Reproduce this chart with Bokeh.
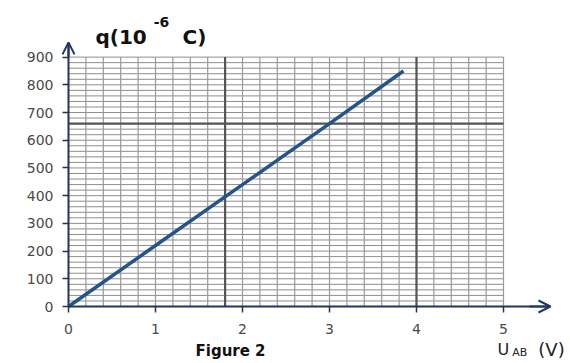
import numpy as np
from bokeh.plotting import figure
from bokeh.models import Range1d, Label, Arrow, OpenHead, FixedTicker
from bokeh.embed import file_html
from bokeh.resources import INLINE

# ---- data ----
u_volts = [0.0, 1.0, 2.0, 3.0, 3.85]
q_micro = [0, 220, 440, 660, 850]
x_ticks = [0, 1, 2, 3, 4, 5]
y_ticks = [0, 100, 200, 300, 400, 500, 600, 700, 800, 900]
grid_step_x = 0.2
grid_step_y = 20
grid_x_max = 5
grid_y_max = 900
dark_x = [1.8, 4.0]
dark_y = [660]

NAVY = "#1f3563"
LINE = "#24548a"
FONT = "DejaVu Sans"

W, H = 570, 363
X0PX, PXU_X = 68.0, 87.0          # canvas px of x=0, px per volt
Y0PX, PXU_Y = 306.0, 0.2771       # canvas px (from top) of y=0, px per unit

p = figure(width=W, height=H, output_backend="svg", toolbar_location=None,
           x_range=Range1d(-X0PX / PXU_X, (W - X0PX) / PXU_X),
           y_range=Range1d(-(H - Y0PX) / PXU_Y, Y0PX / PXU_Y),
           min_border=0)
p.outline_line_color = None
p.xgrid.visible = False
p.ygrid.visible = False

# graph-paper grid
gx = np.arange(1, int(round(grid_x_max / grid_step_x)) + 1) * grid_step_x
gy = np.arange(1, int(round(grid_y_max / grid_step_y)) + 1) * grid_step_y
p.segment(x0=np.zeros_like(gy), y0=gy, x1=np.full_like(gy, grid_x_max), y1=gy,
          line_color="#8e8e8e", line_width=1)
p.segment(x0=gx, y0=np.zeros_like(gx), x1=gx, y1=np.full_like(gx, grid_y_max),
          line_color="#9a9a9a", line_width=1.2)
dx = np.array(dark_x)
dy = np.array(dark_y, dtype=float)
p.segment(x0=dx, y0=np.zeros_like(dx), x1=dx, y1=np.full_like(dx, grid_y_max),
          line_color="#555555", line_width=2.2)
p.segment(x0=np.zeros_like(dy), y0=dy, x1=np.full_like(dy, grid_x_max), y1=dy,
          line_color="#555555", line_width=2.2)

# data line
p.line(u_volts, q_micro, line_color=LINE, line_width=3.5)

# axes (fixed at the origin, inside the frame)
for ax in (p.xaxis, p.yaxis):
    ax.fixed_location = 0
    ax.axis_line_color = NAVY
    ax.axis_line_width = 2
    ax.major_tick_out = 6
    ax.major_tick_in = 0
    ax.major_tick_line_color = "#333333"
    ax.major_tick_line_width = 1.5
    ax.minor_tick_line_color = None
    ax.major_label_text_font = FONT
    ax.major_label_text_color = "#4a4a4a"
    ax.major_label_text_font_size = "14px"
p.xaxis.ticker = FixedTicker(ticks=x_ticks)
p.yaxis.ticker = FixedTicker(ticks=y_ticks)
p.xaxis.bounds = (0, 5.5)
p.yaxis.bounds = (0, 950)
p.xaxis.major_label_standoff = 11
p.yaxis.major_label_standoff = 9

p.add_layout(Arrow(x_start=5.3, y_start=0, x_end=5.54, y_end=0,
                   line_color=NAVY, line_width=2,
                   end=OpenHead(size=12, line_color=NAVY, line_width=2)))
p.add_layout(Arrow(x_start=0, y_start=900, x_end=0, y_end=953,
                   line_color=NAVY, line_width=2,
                   end=OpenHead(size=12, line_color=NAVY, line_width=2)))

# texts
def lab(x, y, t, size, bold=False, color="#111111"):
    p.add_layout(Label(x=x, y=y, text=t, text_font=FONT, text_font_size=size,
                       text_font_style="bold" if bold else "normal",
                       text_color=color, text_baseline="alphabetic", text_align="left"))

lab(0.31, 974, "q(10", "20px", True)
lab(0.98, 1025, "-6", "14px", True)
lab(1.31, 974, "C)", "20px", True)
lab(1.46, -160, "Figure 2", "15px", True)
lab(4.93, -156, "U", "16px", False, "#222222")
lab(5.10, -167, "AB", "11px", False, "#222222")
lab(5.40, -156, "(V)", "18px", False, "#222222")

open("out.html", "w").write(file_html(p, INLINE))
